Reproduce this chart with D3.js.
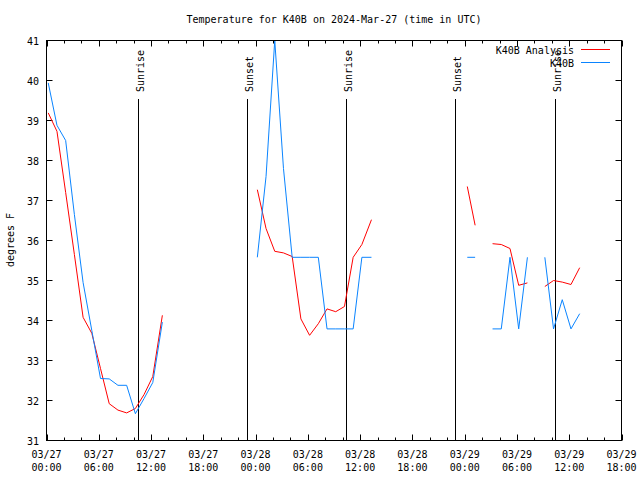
<!DOCTYPE html>
<html><head><meta charset="utf-8">
<script src="https://cdn.jsdelivr.net/npm/d3@7"></script>
<style>
body{margin:0;background:#fff}
svg{display:block}
text{font-family:"DejaVu Sans Mono","Liberation Mono",monospace;font-size:10px;fill:#000}
</style>
</head><body>
<svg id="chart" width="640" height="480"></svg>
<script>
// ---- data (hours since 2024-03-27 00:00 UTC; null = gap) ----
const titleText = "Temperature for K40B on 2024-Mar-27 (time in UTC)";
const yLabel = "degrees F";
const seriesNames = ["K40B Analysis", "K40B"];
const seriesColors = ["#ff0000", "#0a84ff"];

const analysisHours = [0.2,1.2,2.2,3.2,4.2,5.2,6.2,7.2,8.2,9.2,10.2,11.2,12.2,13.3, null,
  24.2,25.2,26.2,27.2,28.2,29.2,30.2,31.2,32.2,33.2,34.2,35.2,36.2,37.3, null,
  48.3,49.2, null,
  51.2,52.2,53.2,54.2,55.2, null,
  57.2,58.2,59.2,60.2,61.2];
const analysisTemps = [39.19,38.73,37.2,35.65,34.08,33.68,32.8,31.92,31.76,31.69,31.8,32.15,32.6,34.13, null,
  37.27,36.3,35.73,35.69,35.6,34.04,33.63,33.92,34.29,34.22,34.35,35.58,35.9,36.52, null,
  37.35,36.38, null,
  35.92,35.9,35.8,34.88,34.94, null,
  34.85,35.0,34.96,34.9,35.32];

const obsHours = [0.2,1.2,2.2,3.2,4.2,5.2,6.2,7.2,8.2,9.2,10.2,11.2,12.2,13.3, null,
  24.2,25.2,26.2,27.2,28.2,29.2,30.2,31.2,32.2,33.2,34.2,35.2,36.2,37.3, null,
  48.3,49.2, null,
  51.2,52.2,53.2,54.2,55.2, null,
  57.2,58.2,59.2,60.2,61.2];
const obsTemps = [39.94,38.88,38.5,36.65,34.95,33.75,32.55,32.54,32.38,32.38,31.67,32.05,32.45,33.96, null,
  35.58,37.6,41.0,37.8,35.58,35.58,35.58,35.58,33.79,33.79,33.79,33.79,35.58,35.58, null,
  35.58,35.58, null,
  33.79,33.79,35.58,33.79,35.58, null,
  35.58,33.79,34.52,33.79,34.17];

const sunEventHours = [10.47, 22.97, 34.42, 46.94, 58.4];
const sunEventNames = ["Sunrise", "Sunset", "Sunrise", "Sunset", "Sunrise"];

const xTickHours = [0,6,12,18,24,30,36,42,48,54,60,66];
const xTickDates = ["03/27","03/27","03/27","03/27","03/28","03/28","03/28","03/28","03/29","03/29","03/29","03/29"];
const xTickTimes = ["00:00","06:00","12:00","18:00","00:00","06:00","12:00","18:00","00:00","06:00","12:00","18:00"];
const yTicks = [31,32,33,34,35,36,37,38,39,40,41];

// ---- layout ----
const svg = d3.select("#chart");
const L = 46.5, R = 621.5, T = 40.5, B = 440.5;
const x = d3.scaleLinear().domain([0, 66]).range([L, R]);
const y = d3.scaleLinear().domain([31, 41]).range([B, T]);

svg.append("rect").attr("width",640).attr("height",480).attr("fill","#fff");

// title
svg.append("text").attr("x", (L+R)/2).attr("y", 23).attr("text-anchor","middle").text(titleText);

// axes ticks (inward)
const minorHours = d3.range(0, 67, 2).filter(h => h % 6 !== 0);
const gx = svg.append("g");
function ticksX(vals, len){
  gx.selectAll(null).data(vals).enter().append("line")
    .attr("x1", d => Math.round(x(d))+0.5).attr("x2", d => Math.round(x(d))+0.5)
    .attr("y1", B).attr("y2", B-len).attr("stroke","#000");
  gx.selectAll(null).data(vals).enter().append("line")
    .attr("x1", d => Math.round(x(d))+0.5).attr("x2", d => Math.round(x(d))+0.5)
    .attr("y1", T).attr("y2", T+len).attr("stroke","#000");
}
ticksX(xTickHours, 6);
ticksX(minorHours, 3);
yTicks.forEach(v => {
  const yy = Math.round(y(v)-0.5)+0.5;
  svg.append("line").attr("x1",L).attr("x2",L+6).attr("y1",yy).attr("y2",yy).attr("stroke","#000");
  svg.append("line").attr("x1",R).attr("x2",R-6).attr("y1",yy).attr("y2",yy).attr("stroke","#000");
  svg.append("text").attr("x", 39).attr("y", yy+4).attr("text-anchor","end").text(v);
});
xTickHours.forEach((h,i) => {
  const t = svg.append("text").attr("x", x(h)).attr("y", 458).attr("text-anchor","middle");
  t.append("tspan").attr("x", x(h)).text(xTickDates[i]);
  t.append("tspan").attr("x", x(h)).attr("dy", 13).text(xTickTimes[i]);
});

// y label
svg.append("text").attr("transform","translate(14,240) rotate(-90)").attr("text-anchor","middle").text(yLabel);

// sunrise / sunset
sunEventHours.forEach((h,i) => {
  const xx = Math.round(x(h))+0.5;
  svg.append("line").attr("x1",xx).attr("x2",xx).attr("y1",99).attr("y2",B).attr("stroke","#000");
  svg.append("text").attr("transform",`translate(${xx+5},92) rotate(-90)`).attr("text-anchor","start").text(sunEventNames[i]);
});

// data lines
const clip = svg.append("clipPath").attr("id","pc").append("rect").attr("x",L).attr("y",T-1).attr("width",R-L).attr("height",B-T+1);
function drawSeries(hours, temps, color){
  const pts = hours.map((h,i) => [h, temps[i]]);
  const line = d3.line().defined(d => d[0] !== null && d[1] !== null).x(d => x(d[0])).y(d => y(d[1]));
  svg.append("path").attr("d", line(pts)).attr("fill","none").attr("stroke",color).attr("stroke-width",1)
    .attr("clip-path","url(#pc)");
}
drawSeries(analysisHours, analysisTemps, seriesColors[0]);
drawSeries(obsHours, obsTemps, seriesColors[1]);

// frame
svg.append("rect").attr("x",L).attr("y",T).attr("width",R-L).attr("height",B-T).attr("fill","none").attr("stroke","#000");

// legend
seriesNames.forEach((n,i) => {
  const ly = 49.5 + i*13;
  svg.append("text").attr("x", 574).attr("y", ly+4).attr("text-anchor","end").text(n);
  svg.append("line").attr("x1",581).attr("x2",610).attr("y1",ly).attr("y2",ly).attr("stroke",seriesColors[i]);
});
</script>
</body></html>
